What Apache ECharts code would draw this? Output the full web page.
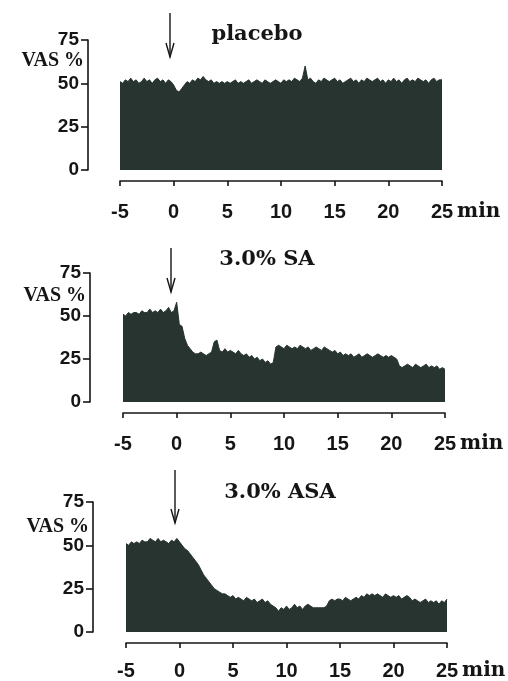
<!DOCTYPE html>
<html>
<head>
<meta charset="utf-8">
<script src="https://cdn.jsdelivr.net/npm/echarts@6/dist/echarts.min.js"></script>
<style>html,body{margin:0;padding:0;background:#fff;}#c{width:508px;height:681px;}</style>
</head>
<body>
<div id="c"></div>
<script>
// sampling grid in minutes (every 0.25 min from -5 to 25)
const tStart = -5, tStep = 0.25;
const xTicks = [-5, 0, 5, 10, 15, 20, 25];
const yTicks = [0, 25, 50, 75];
const titles = ['placebo', '3.0% SA', '3.0% ASA'];

const placebo = [
  51,50,52,51,53,51,52,50,51,53,51,52,50,52,53,51,52,50,52,51,
  49,46,45,47,49,51,50,52,51,53,52,54,52,51,52,50,51,50,51,50,
  51,50,51,52,50,51,50,51,52,50,51,52,51,50,52,51,50,51,52,51,
  50,52,51,52,51,53,52,51,53,60,52,53,51,50,52,51,53,52,51,52,
  53,51,52,50,51,52,53,51,52,50,52,51,53,52,51,52,53,51,52,50,
  52,51,53,51,52,50,52,53,51,52,51,53,52,51,52,50,52,53,51,52,52
];
const sa = [
  51,50,52,51,52,52,51,53,52,52,54,52,53,52,54,52,53,55,52,53,
  58,45,44,37,33,31,29,28,28,29,28,27,28,29,35,36,30,29,31,29,
  30,29,28,30,28,27,28,26,27,25,26,24,25,23,24,22,23,32,33,32,
  31,33,32,31,32,31,33,32,31,32,30,31,32,31,30,32,31,30,29,30,
  28,29,27,28,27,28,26,27,28,26,27,28,27,26,27,28,27,26,27,26,
  27,26,25,21,20,21,22,21,20,22,21,20,21,22,20,21,20,21,19,20,19
];
const asa = [
  51,50,52,51,52,51,53,52,52,54,53,52,54,52,53,52,51,53,52,54,
  52,50,48,47,45,43,41,39,36,33,31,29,27,25,24,23,22,22,21,20,
  21,19,20,19,18,20,19,18,19,17,18,19,17,18,16,15,14,12,14,13,
  15,13,14,16,14,15,13,15,16,15,14,14,14,14,14,15,18,19,18,19,
  19,18,20,19,18,19,20,19,21,20,22,21,22,21,22,21,20,22,21,20,
  21,20,21,19,20,21,20,18,19,18,17,18,19,17,18,17,18,16,18,17,19
];
const seriesValues = [placebo, sa, asa];

// layout (pixels)
const panels = [
  {left:120, right:66, top:40,  height:130, yOff:32, xOff:11, lblGap:21, arrowX:170, arrowY1:13,  arrowY2:57,  titleX:252, titleY:30,  vasY:61},
  {left:123, right:63, top:273, height:129, yOff:33, xOff:11, lblGap:21, arrowX:171, arrowY1:248, arrowY2:292, titleX:262, titleY:255, vasY:296},
  {left:126, right:61, top:502, height:130, yOff:33, xOff:11, lblGap:18, arrowX:175, arrowY1:470, arrowY2:523, titleX:275, titleY:488, vasY:527}
];

const fill = '#28342f';
const ink = '#151515';
const tickFont = '"Liberation Sans", Arial, sans-serif';
const sansBold = {fontFamily:tickFont, fontWeight:'bold', color:ink};
const titleFont = '"DejaVu Serif", "Liberation Serif", serif';

const grid = [], xAxis = [], yAxis = [], series = [], title = [], graphic = [];
panels.forEach((p, i) => {
  grid.push({left:p.left, right:p.right, top:p.top, height:p.height, containLabel:false});
  xAxis.push({
    type:'value', gridIndex:i, min:xTicks[0], max:xTicks[xTicks.length-1], interval:5,
    offset:p.xOff,
    axisLine:{show:true, onZero:false, lineStyle:{color:ink, width:1.6}},
    axisTick:{show:true, inside:false, length:5, lineStyle:{color:ink, width:1.6}},
    splitLine:{show:false},
    axisLabel:Object.assign({fontSize:20, margin:p.lblGap}, sansBold)
  });
  yAxis.push({
    type:'value', gridIndex:i, min:yTicks[0], max:yTicks[yTicks.length-1], interval:25,
    offset:p.yOff,
    axisLine:{show:true, onZero:false, lineStyle:{color:ink, width:1.6}},
    axisTick:{show:true, inside:false, length:7, lineStyle:{color:ink, width:1.6}},
    splitLine:{show:false},
    axisLabel:Object.assign({fontSize:19, margin:9}, sansBold)
  });
  const vals = seriesValues[i];
  series.push({
    type:'line', xAxisIndex:i, yAxisIndex:i,
    data: vals.map((v, k) => [tStart + k*tStep, v]),
    symbol:'none',
    lineStyle:{color:fill, width:1},
    areaStyle:{color:fill, opacity:1},
    silent:true, animation:false
  });
  title.push({
    text:titles[i], left:p.titleX, top:p.titleY, textAlign:'center', textVerticalAlign:'middle',
    textStyle:{fontSize:21, fontFamily:titleFont, fontWeight:'bold', color:ink}
  });
  graphic.push({
    type:'text', x:p.left - p.yOff - 4, y:p.vasY,
    style:{text:'VAS %', font:'bold 20px "Liberation Serif", serif', fill:ink, textAlign:'right', textVerticalAlign:'middle'}
  });
  graphic.push({
    type:'text', x:(508 - p.right) + 15, y:p.top + p.height + p.xOff + p.lblGap + 10,
    style:{text:'min', font:'bold 20px ' + titleFont, fill:ink, textAlign:'left', textVerticalAlign:'middle'}
  });
  graphic.push({
    type:'line', shape:{x1:p.arrowX, y1:p.arrowY1, x2:p.arrowX, y2:p.arrowY2}, style:{stroke:ink, lineWidth:1.4}
  });
  graphic.push({
    type:'polyline', shape:{points:[[p.arrowX-4, p.arrowY2-14],[p.arrowX, p.arrowY2],[p.arrowX+4, p.arrowY2-14]]}, style:{stroke:ink, lineWidth:1.4, fill:null}
  });
});

const chart = echarts.init(document.getElementById('c'), null, {renderer:'canvas'});
chart.setOption({animation:false, backgroundColor:'#fff', grid, xAxis, yAxis, series, title, graphic});
</script>
</body>
</html>
